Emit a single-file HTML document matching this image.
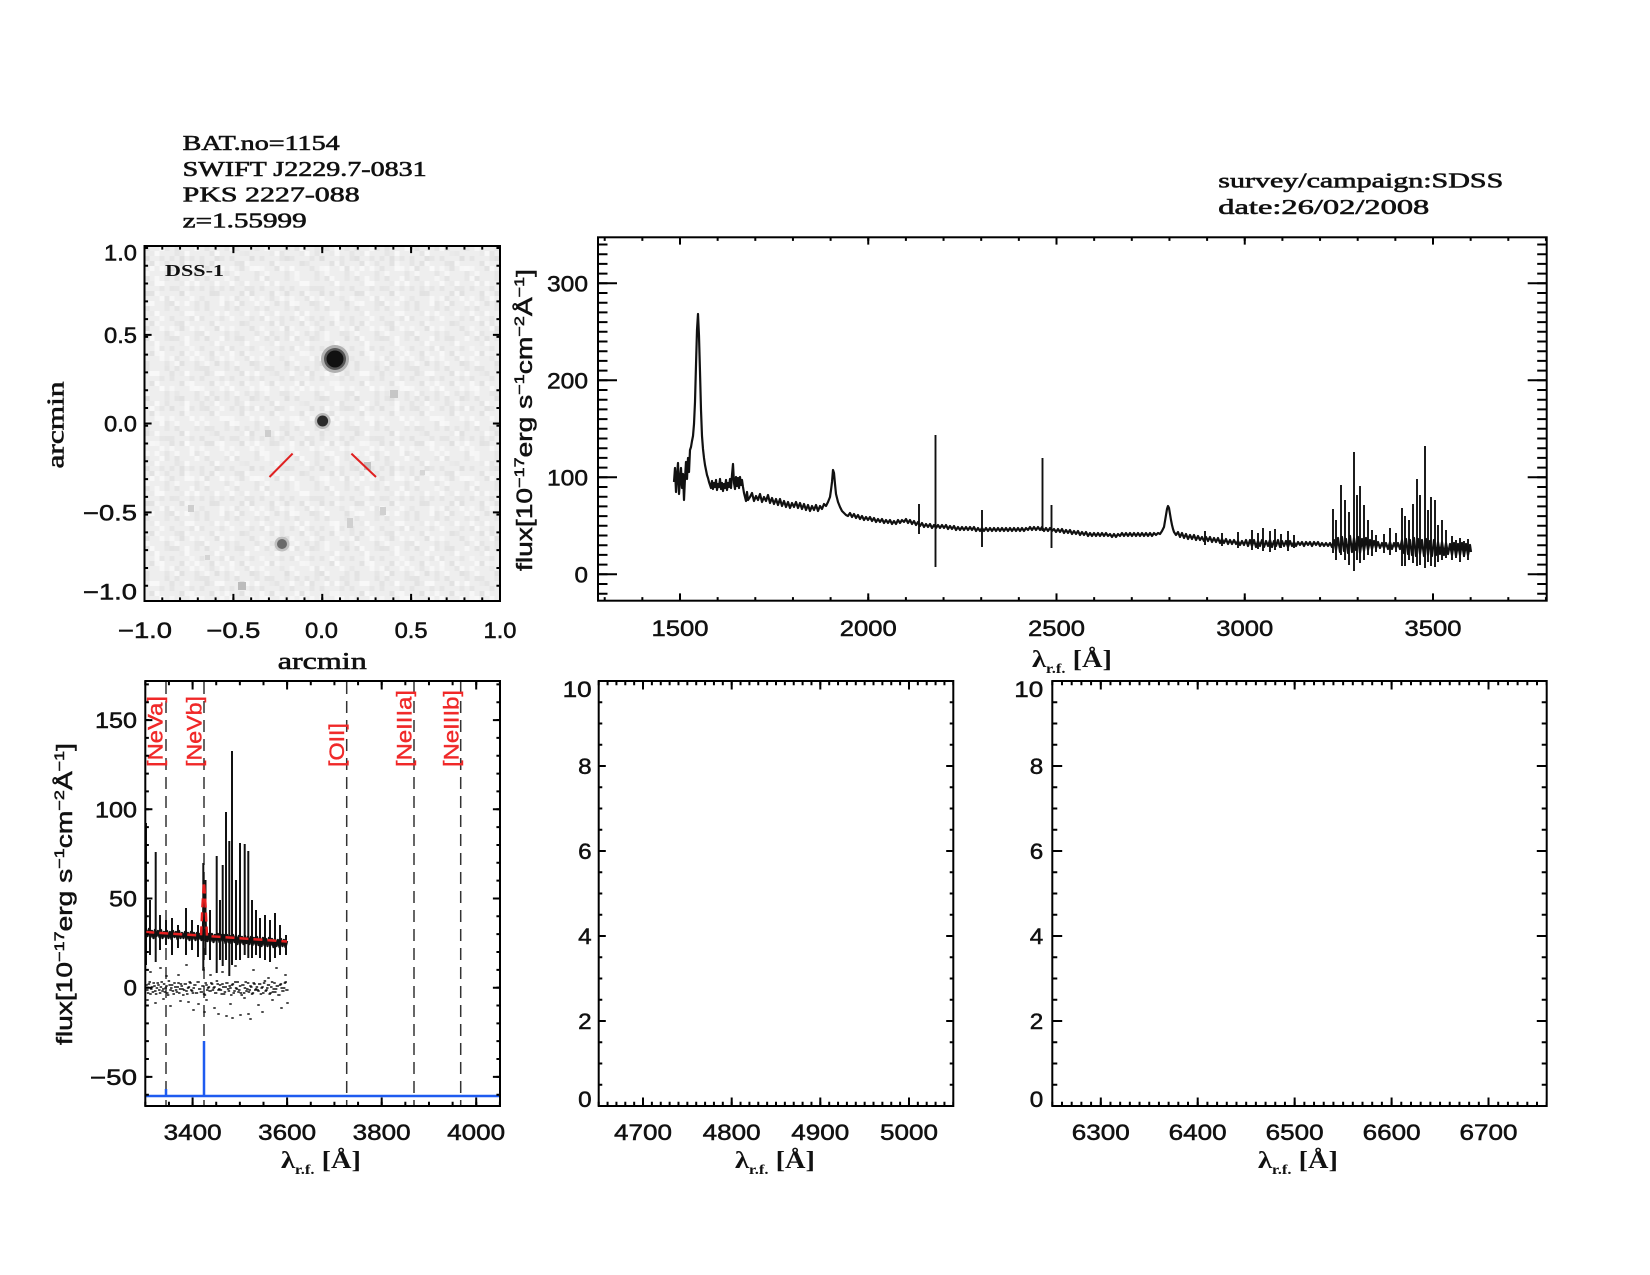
<!DOCTYPE html>
<html><head><meta charset="utf-8"><style>html,body{margin:0;padding:0;background:#fff}svg{display:block}</style></head>
<body>
<svg width="1650" height="1275" viewBox="0 0 1650 1275" xmlns="http://www.w3.org/2000/svg">
<defs>
<pattern id="pA" width="30" height="30" patternUnits="userSpaceOnUse" x="144.5" y="246">
<rect x="0" y="0" width="5" height="5" fill="#e4e4e4"/><rect x="10" y="5" width="5" height="5" fill="#f8f8f8"/><rect x="20" y="0" width="5" height="5" fill="#e7e7e7"/><rect x="5" y="15" width="5" height="5" fill="#e2e2e2"/><rect x="15" y="20" width="5" height="5" fill="#f7f7f7"/><rect x="25" y="10" width="5" height="5" fill="#e5e5e5"/><rect x="0" y="25" width="5" height="5" fill="#f6f6f6"/><rect x="20" y="25" width="5" height="5" fill="#e6e6e6"/><rect x="10" y="15" width="5" height="5" fill="#f5f5f5"/><rect x="5" y="5" width="5" height="5" fill="#eaeaea"/><rect x="15" y="10" width="5" height="5" fill="#e6e6e6"/><rect x="25" y="20" width="5" height="5" fill="#f6f6f6"/>
</pattern>
<pattern id="pB" width="35" height="35" patternUnits="userSpaceOnUse" x="144.5" y="246">
<rect x="0" y="10" width="5" height="5" fill="#dedede"/><rect x="15" y="0" width="5" height="5" fill="#fbfbfb"/><rect x="25" y="20" width="5" height="5" fill="#e0e0e0"/><rect x="10" y="30" width="5" height="5" fill="#f9f9f9"/><rect x="30" y="5" width="5" height="5" fill="#e4e4e4"/><rect x="5" y="20" width="5" height="5" fill="#fbfbfb"/><rect x="20" y="15" width="5" height="5" fill="#e3e3e3"/>
</pattern>
<clipPath id="cImg"><rect x="144.5" y="246" width="355.5" height="355"/></clipPath>
</defs>
<rect width="1650" height="1275" fill="#fff"/>

<!-- header text -->
<g font-family="'Liberation Serif', serif" font-size="21.5" fill="#111" stroke="#111" stroke-width="0.6">
<text x="182.7" y="150" textLength="157" lengthAdjust="spacingAndGlyphs">BAT.no=1154</text>
<text x="182.7" y="175.8" textLength="244" lengthAdjust="spacingAndGlyphs">SWIFT J2229.7-0831</text>
<text x="182.7" y="201.5" textLength="177" lengthAdjust="spacingAndGlyphs">PKS 2227-088</text>
<text x="182.7" y="227.3" textLength="124" lengthAdjust="spacingAndGlyphs">z=1.55999</text>
<text x="1218.3" y="187.7" textLength="285" lengthAdjust="spacingAndGlyphs">survey/campaign:SDSS</text>
<text x="1218.3" y="214" textLength="211" lengthAdjust="spacingAndGlyphs">date:26/02/2008</text>
</g>

<!-- ============ IMAGE PANEL ============ -->
<g clip-path="url(#cImg)">
<rect x="144.5" y="246" width="355.5" height="355" fill="#eeeeee"/>
<rect x="144.5" y="246" width="355.5" height="355" fill="url(#pA)"/>
<rect x="144.5" y="246" width="355.5" height="355" fill="url(#pB)" opacity="0.8"/>
<!-- bright star -->
<circle cx="335" cy="359" r="14" fill="#b0b0b0"/>
<circle cx="335" cy="359" r="11" fill="#555"/>
<circle cx="335" cy="359" r="8.5" fill="#111"/>
<!-- star 2 -->
<circle cx="322.6" cy="421" r="8" fill="#b8b8b8"/>
<circle cx="322.6" cy="421" r="5.5" fill="#2a2a2a"/>
<!-- star 3 -->
<circle cx="282" cy="544" r="7.5" fill="#c0c0c0"/>
<circle cx="282" cy="544" r="5" fill="#6a6a6a"/>
<!-- faint sources -->
<rect x="238" y="582" width="8" height="8" fill="#bcbcbc"/>
<rect x="390" y="390" width="8" height="8" fill="#c6c6c6"/>
<rect x="364" y="462" width="7" height="8" fill="#c4c4c4"/>
<rect x="380" y="507" width="6" height="8" fill="#d0d0d0"/>
<rect x="347" y="518" width="6" height="10" fill="#d0d0d0"/>
<rect x="265" y="430" width="6" height="7" fill="#cdcdcd"/>
<rect x="188" y="505" width="6" height="7" fill="#cecece"/>
<rect x="205" y="555" width="5" height="5" fill="#d4d4d4"/>
<rect x="420" y="470" width="5" height="5" fill="#d6d6d6"/>
<!-- red markers -->
<path d="M269.5,477 L292.6,453.6 M351.4,453.6 L376,477" stroke="#e02020" stroke-width="2" fill="none"/>
</g>
<text x="165" y="276" font-family="'Liberation Serif', serif" font-weight="bold" font-size="17" textLength="59" lengthAdjust="spacingAndGlyphs" fill="#111">DSS-1</text>
<rect x="144.5" y="246" width="355.5" height="355" fill="none" stroke="#000" stroke-width="2"/>
<g stroke="#000" fill="none">
<line x1="143.5" y1="599.2" x2="501" y2="599.2" stroke-width="3.55" stroke-dasharray="2 15.775"/>
<line x1="143.5" y1="247.8" x2="501" y2="247.8" stroke-width="3.55" stroke-dasharray="2 15.775"/>
<line x1="146.3" y1="247" x2="146.3" y2="602" stroke-width="3.55" stroke-dasharray="2 15.775"/>
<line x1="498.2" y1="247" x2="498.2" y2="602" stroke-width="3.55" stroke-dasharray="2 15.775"/>
<path stroke-width="2" d="M233.4,601V593.9 M322.25,601V593.9 M411.1,601V593.9 M233.4,246V253.1 M322.25,246V253.1 M411.1,246V253.1 M144.5,334.9H151.6 M144.5,423.5H151.6 M144.5,512.4H151.6 M500,334.9H492.9 M500,423.5H492.9 M500,512.4H492.9"/>
</g>
<g font-family="'Liberation Sans', sans-serif" font-size="22" fill="#111" stroke="#111" stroke-width="0.5">
<g text-anchor="end">
<text x="137" y="260.7" textLength="33" lengthAdjust="spacingAndGlyphs">1.0</text>
<text x="137" y="342.9" textLength="33" lengthAdjust="spacingAndGlyphs">0.5</text>
<text x="137" y="431.5" textLength="33" lengthAdjust="spacingAndGlyphs">0.0</text>
<text x="137" y="520.4" textLength="54" lengthAdjust="spacingAndGlyphs">−0.5</text>
<text x="137" y="599.5" textLength="54" lengthAdjust="spacingAndGlyphs">−1.0</text>
</g>
<g text-anchor="middle">
<text x="145" y="638" textLength="54" lengthAdjust="spacingAndGlyphs">−1.0</text>
<text x="233.4" y="638" textLength="54" lengthAdjust="spacingAndGlyphs">−0.5</text>
<text x="321.5" y="638" textLength="33" lengthAdjust="spacingAndGlyphs">0.0</text>
<text x="411.1" y="638" textLength="33" lengthAdjust="spacingAndGlyphs">0.5</text>
<text x="500" y="638" textLength="33" lengthAdjust="spacingAndGlyphs">1.0</text>
</g>
</g>
<g font-family="'Liberation Serif', serif" font-size="24" fill="#111" stroke="#111" stroke-width="0.6">
<text x="322.25" y="669" text-anchor="middle" textLength="89" lengthAdjust="spacingAndGlyphs">arcmin</text>
<text transform="translate(63.5,425) rotate(-90)" text-anchor="middle" textLength="87" lengthAdjust="spacingAndGlyphs">arcmin</text>
</g>

<!-- ============ TOP SPECTRUM ============ -->
<polyline fill="none" stroke="#111" stroke-width="2.2" stroke-linejoin="round" points="674,482 675,468 676,492 677,476 678,463 679,494 680,480 681,468 682,488 683,474 684,500 685,478 686,462 687,479 688,458 689,472 690,450 691,447 692,441 693,436 694,424 695,402 696,365 697,330 698,314 699,336 700,372 701,410 702,436 703,449 704,458 705,465 706,470 707,475 708,478 709,482 710,485 711,488 712,481 713,489 714,483 715,487 716,480 717,490 718,484 719,487 720,479 721,489 722,483 723,491 724,484 725,488 726,480 727,490 728,483 729,487 730,479 731,488 732,475 733,464 734,483 735,489 736,477 737,486 738,478 739,488 740,477 741,485 742,480 743,487 744,493 745,497 746,501 747,492 748,500 750,497 752,493 754,501 756,496 758,500 760,494 762,502 764,497 766,501 768,495 770,503 772,498 774,504 776,499 778,505 780,499 782,506 784,501 786,507 788,502 790,508 792,503 794,507 796,502 798,508 800,503 802,509 804,504 806,510 808,505 810,511 812,506 814,510 816,505 818,511 820,506 822,509 824,504 826,506 828,502 830,497 831,490 832,482 833,470 834,473 835,484 836,494 838,502 840,507 842,511 844,513 846,515 848,516 850,513 852,517 854,514 856,518 858,515 860,519 862,516 864,520 866,517 868,520 870,517 872,521 874,518 876,522 878,519 880,522 882,519 884,523 886,520 888,523 890,520 892,524 894,521 896,524 898,520 900,523 902,520 904,522 906,519 908,523 910,520 912,524 914,521 916,525 918,522 920,526 922,523 924,527 926,524 928,527 930,524 932,528 934,525 936,528 938,525 940,528 942,525 944,528 946,525 948,529 950,526 952,529 954,526 956,530 958,527 960,530 962,527 964,530 966,527 968,530 970,527 972,530 974,527 976,531 978,528 980,531 982,528 984,531 986,528 988,531 990,528 992,531 994,528 996,531 998,528 1000,531 1002,528 1004,531 1006,528 1008,531 1010,528 1012,531 1014,528 1016,531 1018,528 1020,531 1022,528 1024,531 1026,528 1028,530 1030,527 1032,530 1034,527 1036,530 1038,527 1040,530 1042,527 1044,531 1046,528 1048,531 1050,528 1052,531 1054,529 1056,532 1058,529 1060,532 1062,529 1064,533 1066,530 1068,533 1070,530 1072,534 1074,531 1076,534 1078,531 1080,535 1082,532 1084,535 1086,532 1088,536 1090,533 1092,536 1094,533 1096,536 1098,533 1100,536 1102,533 1104,536 1106,533 1108,536 1110,534 1112,537 1114,534 1116,537 1118,534 1120,536 1122,533 1124,536 1126,533 1128,536 1130,533 1132,536 1134,533 1136,536 1138,533 1140,536 1142,533 1144,536 1146,533 1148,536 1150,533 1152,536 1154,533 1156,535 1158,533 1160,534 1162,531 1164,527 1165,521 1166,515 1167,509 1168,506 1169,508 1170,514 1171,520 1172,525 1173,529 1174,532 1176,535 1178,532 1180,537 1182,533 1184,538 1186,534 1188,539 1190,535 1192,539 1194,535 1196,540 1198,536 1200,540 1202,537 1204,541 1206,537 1208,541 1210,537 1212,542 1214,538 1216,542 1218,538 1220,543 1222,539 1224,543 1226,539 1228,544 1230,540 1232,544 1234,540 1236,544 1238,541 1240,545 1242,541 1244,545 1246,540 1248,546 1250,540 1252,546 1254,540 1256,547 1258,541 1260,546 1262,540 1264,547 1266,541 1268,546 1270,540 1272,547 1274,541 1276,546 1278,540 1280,547 1282,541 1284,546 1286,541 1288,547 1290,541 1292,546 1294,542 1296,546 1298,542 1300,545 1302,542 1304,546 1306,542 1308,545 1310,542 1312,546 1314,542 1316,545 1318,542 1320,546 1322,543 1324,546 1326,543 1328,546 1330,543 1332,547 1334,540 1336,550 1338,538 1340,552 1342,537 1344,551 1346,539 1348,553 1350,536 1352,552 1354,538 1356,550 1358,537 1360,553 1362,539 1364,551 1366,538 1368,550 1370,540 1372,549 1374,541 1376,548 1378,542 1380,548 1382,543 1384,548 1386,543 1388,549 1390,542 1392,549 1394,543 1396,548 1398,543 1400,549 1402,540 1404,553 1406,539 1408,554 1410,540 1412,555 1414,538 1416,556 1418,539 1420,554 1422,540 1424,556 1426,539 1428,555 1430,541 1432,556 1434,540 1436,555 1438,542 1440,554 1442,542 1444,555 1446,543 1448,554 1450,544 1452,555 1454,543 1456,556 1458,544 1460,555 1462,543 1464,556 1466,544 1468,555 1470,545 1471,552"/>
<path fill="none" stroke="#111" stroke-width="1.9" d="M919,504V534 M935.5,435V567 M982,510V547 M1042.5,458V531 M1051.5,505V548 M1205,531V545 M1222,533V546 M1238,532V548 M1252,530V550 M1258,533V549 M1263,528V551 M1270,531V552 M1275,529V550 M1281,534V548 M1288,531V551 M1294,535V548 M1333,509V553 M1336,520V560 M1341,485V555 M1345,500V560 M1349,512V565 M1354,452V571 M1357,495V560 M1360,486V563 M1364,505V560 M1368,520V555 M1372,530V556 M1376,535V552 M1384,534V553 M1390,528V555 M1396,533V552 M1402,508V566 M1405,516V566 M1409,520V560 M1413,504V563 M1417,479V566 M1420,495V565 M1425,446V568 M1428,510V562 M1431,497V566 M1435,500V567 M1438,525V562 M1442,520V560 M1446,530V558 M1452,536V560 M1456,540V558 M1460,538V562 M1464,541V557 M1468,539V560"/>
<rect x="598" y="237.3" width="948.7" height="363.4" fill="none" stroke="#000" stroke-width="2"/>
<g stroke="#000" fill="none">
<line x1="603.7" y1="598.9" x2="1547" y2="598.9" stroke-width="3.6" stroke-dasharray="2 35.65"/>
<line x1="603.7" y1="239.1" x2="1547" y2="239.1" stroke-width="3.6" stroke-dasharray="2 35.65"/>
<line x1="602.75" y1="594.7" x2="602.75" y2="240" stroke-width="9.5" stroke-dasharray="2 7.7"/>
<line x1="1541.95" y1="594.7" x2="1541.95" y2="240" stroke-width="9.5" stroke-dasharray="2 7.7"/>
<path stroke-width="2" d="M680,600.7V593.4 M868.25,600.7V593.4 M1056.5,600.7V593.4 M1244.75,600.7V593.4 M1433,600.7V593.4 M680,237.3V244.6 M868.25,237.3V244.6 M1056.5,237.3V244.6 M1244.75,237.3V244.6 M1433,237.3V244.6 M598,574.3H617 M598,477.3H617 M598,380.3H617 M598,283.3H617 M1546.7,574.3H1527.7 M1546.7,477.3H1527.7 M1546.7,380.3H1527.7 M1546.7,283.3H1527.7"/>
</g>
<g font-family="'Liberation Sans', sans-serif" font-size="22" fill="#111" stroke="#111" stroke-width="0.5">
<g text-anchor="middle">
<text x="680" y="636" textLength="57" lengthAdjust="spacingAndGlyphs">1500</text>
<text x="868.25" y="636" textLength="57" lengthAdjust="spacingAndGlyphs">2000</text>
<text x="1056.5" y="636" textLength="57" lengthAdjust="spacingAndGlyphs">2500</text>
<text x="1244.75" y="636" textLength="57" lengthAdjust="spacingAndGlyphs">3000</text>
<text x="1433" y="636" textLength="57" lengthAdjust="spacingAndGlyphs">3500</text>
</g>
<g text-anchor="end">
<text x="588" y="582.3" textLength="13.5" lengthAdjust="spacingAndGlyphs">0</text>
<text x="588" y="485.3" textLength="41" lengthAdjust="spacingAndGlyphs">100</text>
<text x="588" y="388.3" textLength="41" lengthAdjust="spacingAndGlyphs">200</text>
<text x="588" y="291.3" textLength="41" lengthAdjust="spacingAndGlyphs">300</text>
</g>
<text transform="translate(532,420) rotate(-90)" text-anchor="middle" textLength="302" lengthAdjust="spacingAndGlyphs">flux[10<tspan font-size="14" dy="-8">−17</tspan><tspan dy="8">erg s</tspan><tspan font-size="14" dy="-8">−1</tspan><tspan dy="8">cm</tspan><tspan font-size="14" dy="-8">−2</tspan><tspan dy="8">Å</tspan><tspan font-size="14" dy="-8">−1</tspan><tspan dy="8">]</tspan></text>
<text transform="translate(72,894) rotate(-90)" text-anchor="middle" textLength="302" lengthAdjust="spacingAndGlyphs">flux[10<tspan font-size="14" dy="-8">−17</tspan><tspan dy="8">erg s</tspan><tspan font-size="14" dy="-8">−1</tspan><tspan dy="8">cm</tspan><tspan font-size="14" dy="-8">−2</tspan><tspan dy="8">Å</tspan><tspan font-size="14" dy="-8">−1</tspan><tspan dy="8">]</tspan></text>
</g>

<!-- lambda labels -->
<g font-family="'Liberation Serif', serif" font-weight="bold" font-size="24" fill="#111" text-anchor="middle">
<text x="1072" y="667" textLength="80" lengthAdjust="spacingAndGlyphs">λ<tspan font-size="14" dy="6">r.f.</tspan><tspan dy="-6"> [Å]</tspan></text>
<text x="321" y="1168" textLength="80" lengthAdjust="spacingAndGlyphs">λ<tspan font-size="14" dy="6">r.f.</tspan><tspan dy="-6"> [Å]</tspan></text>
<text x="775" y="1168" textLength="80" lengthAdjust="spacingAndGlyphs">λ<tspan font-size="14" dy="6">r.f.</tspan><tspan dy="-6"> [Å]</tspan></text>
<text x="1298" y="1168" textLength="80" lengthAdjust="spacingAndGlyphs">λ<tspan font-size="14" dy="6">r.f.</tspan><tspan dy="-6"> [Å]</tspan></text>
</g>

<!-- ============ BOTTOM LEFT ============ -->
<path fill="none" stroke="#333" stroke-width="1.5" stroke-dasharray="12 7" d="M166,682V1105 M204,682V1105 M346.7,682V1105 M414,682V1105 M460.7,682V1105"/>
<g font-family="'Liberation Sans', sans-serif" font-size="21" fill="#f02828" stroke="#f02828" stroke-width="0.4">
<text transform="translate(162.6,767) rotate(-90)" textLength="71" lengthAdjust="spacingAndGlyphs">[NeVa]</text>
<text transform="translate(201.3,767) rotate(-90)" textLength="71" lengthAdjust="spacingAndGlyphs">[NeVb]</text>
<text transform="translate(343.9,767) rotate(-90)" textLength="44" lengthAdjust="spacingAndGlyphs">[OII]</text>
<text transform="translate(411.6,767) rotate(-90)" textLength="77" lengthAdjust="spacingAndGlyphs">[NeIIIa]</text>
<text transform="translate(458.3,767) rotate(-90)" textLength="77" lengthAdjust="spacingAndGlyphs">[NeIIIb]</text>
</g>
<path fill="none" stroke="#111" stroke-width="1.5" stroke-linecap="square" d="M146,985h1 M147.6,993h1 M149.2,982h1 M150.8,989h1 M152.4,992h1 M154,986h1 M155.6,994h1 M157.2,983h1 M158.8,990h1 M160.4,987h1 M162,991h1 M163.6,984h1 M165.2,988h1 M166.8,993h1 M168.4,981h1 M170,990h1 M171.6,985h1 M173.2,994h1 M174.8,987h1 M176.4,992h1 M178,983h1 M179.6,989h1 M181.2,986h1 M182.8,995h1 M184.4,984h1 M186,991h1 M187.6,988h1 M189.2,982h1 M190.8,990h1 M192.4,993h1 M194,985h1 M195.6,993h1 M197.2,982h1 M198.8,989h1 M200.4,992h1 M202,986h1 M203.6,994h1 M205.2,983h1 M206.8,990h1 M208.4,987h1 M210,991h1 M211.6,984h1 M213.2,988h1 M214.8,993h1 M216.4,981h1 M218,990h1 M219.6,985h1 M221.2,994h1 M222.8,987h1 M224.4,992h1 M226,983h1 M227.6,989h1 M229.2,986h1 M230.8,995h1 M232.4,984h1 M234,991h1 M235.6,988h1 M237.2,982h1 M238.8,990h1 M240.4,993h1 M242,985h1 M243.6,993h1 M245.2,982h1 M246.8,989h1 M248.4,992h1 M250,986h1 M251.6,994h1 M253.2,983h1 M254.8,990h1 M256.4,987h1 M258,991h1 M259.6,984h1 M261.2,988h1 M262.8,993h1 M264.4,981h1 M266,990h1 M267.6,985h1 M269.2,994h1 M270.8,987h1 M272.4,992h1 M274,983h1 M275.6,989h1 M277.2,986h1 M278.8,995h1 M280.4,984h1 M282,991h1 M283.6,988h1 M285.2,982h1 M286.8,990h1 M146.8,990h1 M148.4,984h1 M150,994h1 M151.6,987h1 M153.2,983h1 M154.8,991h1 M156.4,988h1 M158,985h1 M159.6,993h1 M161.2,982h1 M162.8,989h1 M164.4,992h1 M166,986h1 M167.6,995h1 M169.2,985h1 M170.8,988h1 M172.4,991h1 M174,983h1 M175.6,990h1 M177.2,987h1 M178.8,993h1 M180.4,984h1 M182,989h1 M183.6,990h1 M185.2,984h1 M186.8,994h1 M188.4,987h1 M190,983h1 M191.6,991h1 M193.2,988h1 M194.8,985h1 M196.4,993h1 M198,982h1 M199.6,989h1 M201.2,992h1 M202.8,986h1 M204.4,995h1 M206,985h1 M207.6,988h1 M209.2,991h1 M210.8,983h1 M212.4,990h1 M214,987h1 M215.6,993h1 M217.2,984h1 M218.8,989h1 M220.4,990h1 M222,984h1 M223.6,994h1 M225.2,987h1 M226.8,983h1 M228.4,991h1 M230,988h1 M231.6,985h1 M233.2,993h1 M234.8,982h1 M236.4,989h1 M238,992h1 M239.6,986h1 M241.2,995h1 M242.8,985h1 M244.4,988h1 M246,991h1 M247.6,983h1 M249.2,990h1 M250.8,987h1 M252.4,993h1 M254,984h1 M255.6,989h1 M257.2,990h1 M258.8,984h1 M260.4,994h1 M262,987h1 M263.6,983h1 M265.2,991h1 M266.8,988h1 M268.4,985h1 M270,993h1 M271.6,982h1 M273.2,989h1 M274.8,992h1 M276.4,986h1 M278,995h1 M279.6,985h1 M281.2,988h1 M282.8,991h1 M284.4,983h1 M286,990h1 M147,1000h1 M150,972h1 M155,1003h1 M160,968h1 M163,999h1 M170,1006h1 M178,975h1 M186,965h1 M188,1002h1 M193,1010h1 M198,1004h1 M203,970h1 M204,1012h1 M206,1000h1 M210,975h1 M214,1008h1 M218,1014h1 M222,972h1 M226,1016h1 M230,1004h1 M235,966h1 M240,1015h1 M244,998h1 M248,1014h1 M253,970h1 M258,1005h1 M262,1012h1 M268,978h1 M272,1000h1 M276,968h1 M281,1008h1 M285,975h1 M287,1003h1 M180,1001h1 M166,976h1 M232,1018h1 M250,1019h1"/>
<polyline fill="none" stroke="#111" stroke-width="2.4" stroke-linejoin="round" points="146,930 147.5,936 149,929 150.5,937 152,931 153.5,938 155,930 156.5,936 158,931 159.5,937 161,930 162.5,938 164,932 165.5,937 167,931 168.5,938 170,932 171.5,939 173,931 174.5,937 176,932 177.5,939 179,931 180.5,938 182,933 183.5,938 185,932 186.5,939 188,933 189.5,940 191,932 192.5,939 194,933 195.5,940 197,933 198.5,939 200,934 201.5,940 203,930 204,890 205,905 206,935 207.5,941 209,934 210.5,941 212,934 213.5,942 215,935 216.5,941 218,934 219.5,942 221,935 222.5,941 224,935 225.5,943 227,935 228.5,942 230,936 231.5,943 233,935 234.5,942 236,936 237.5,944 239,936 240.5,943 242,937 243.5,944 245,936 246.5,943 248,937 249.5,944 251,937 252.5,945 254,938 255.5,944 257,937 258.5,945 260,938 261.5,946 263,938 264.5,945 266,939 267.5,946 269,938 270.5,945 272,939 273.5,947 275,939 276.5,946 278,940 279.5,947 281,939 282.5,946 284,940 285.5,947 287,941"/>
<path fill="none" stroke="#111" stroke-width="2" d="M146,823V965 M150,900V955 M155.7,852V962 M160,915V950 M166,920V945 M172,918V955 M178,925V948 M186,908V955 M192,920V950 M198,925V957 M203.3,863V970 M205.5,880V955 M210,910V960 M216.7,856V973 M220,900V960 M222.7,865V966 M226,812V960 M229.3,841V976 M232,751V965 M236,880V960 M240,843V960 M244.7,844V955 M248.3,851V958 M252,900V958 M256,910V955 M260,918V958 M265,915V960 M270,920V962 M275,913V958 M280,925V955 M286,935V955"/>
<path fill="none" stroke="#e82020" stroke-width="2.5" stroke-dasharray="9 5" d="M145.3,932 L201,935.5 L202.5,905 L204,882 L205.5,905 L207,936 L287,941.5"/>
<path fill="none" stroke="#1e5bf0" stroke-width="2.5" d="M145.3,1096 H500 M166,1096 V1089 M204,1096 V1041"/>
<rect x="145.3" y="681" width="354.7" height="425" fill="none" stroke="#000" stroke-width="2"/>
<g stroke="#000" fill="none">
<line x1="144.3" y1="1103.9" x2="501" y2="1103.9" stroke-width="4.25" stroke-dasharray="2 21.64"/>
<line x1="144.3" y1="683.1" x2="501" y2="683.1" stroke-width="4.25" stroke-dasharray="2 21.64"/>
<line x1="147.1" y1="1095.7" x2="147.1" y2="682" stroke-width="3.55" stroke-dasharray="2 15.84"/>
<line x1="498.2" y1="1095.7" x2="498.2" y2="682" stroke-width="3.55" stroke-dasharray="2 15.84"/>
<path stroke-width="2" d="M192.6,1106V1097.5 M287.1,1106V1097.5 M381.7,1106V1097.5 M476.2,1106V1097.5 M192.6,681V689.5 M287.1,681V689.5 M381.7,681V689.5 M476.2,681V689.5 M145.3,1076.9H152.4 M145.3,987.7H152.4 M145.3,898.5H152.4 M145.3,809.3H152.4 M145.3,720.1H152.4 M500,1076.9H492.9 M500,987.7H492.9 M500,898.5H492.9 M500,809.3H492.9 M500,720.1H492.9"/>
</g>
<g font-family="'Liberation Sans', sans-serif" font-size="22" fill="#111" stroke="#111" stroke-width="0.5">
<g text-anchor="end">
<text x="137" y="728.1" textLength="42" lengthAdjust="spacingAndGlyphs">150</text>
<text x="137" y="817.3" textLength="42" lengthAdjust="spacingAndGlyphs">100</text>
<text x="137" y="906.5" textLength="28" lengthAdjust="spacingAndGlyphs">50</text>
<text x="137" y="995.7" textLength="13.5" lengthAdjust="spacingAndGlyphs">0</text>
<text x="137" y="1084.9" textLength="47" lengthAdjust="spacingAndGlyphs">−50</text>
</g>
<g text-anchor="middle">
<text x="192.6" y="1140" textLength="58" lengthAdjust="spacingAndGlyphs">3400</text>
<text x="287.1" y="1140" textLength="58" lengthAdjust="spacingAndGlyphs">3600</text>
<text x="381.7" y="1140" textLength="58" lengthAdjust="spacingAndGlyphs">3800</text>
<text x="476.2" y="1140" textLength="58" lengthAdjust="spacingAndGlyphs">4000</text>
</g>
</g>

<!-- ============ BOTTOM MIDDLE ============ -->
<rect x="598.7" y="681" width="354.6" height="425" fill="none" stroke="#000" stroke-width="2"/>
<g stroke="#000" fill="none">
<line x1="597.7" y1="1103.9" x2="954" y2="1103.9" stroke-width="4.25" stroke-dasharray="2 6.865"/>
<line x1="597.7" y1="683.1" x2="954" y2="683.1" stroke-width="4.25" stroke-dasharray="2 6.865"/>
<line x1="600.5" y1="1107" x2="600.5" y2="681" stroke-width="3.55" stroke-dasharray="2 19.25"/>
<line x1="951.5" y1="1107" x2="951.5" y2="681" stroke-width="3.55" stroke-dasharray="2 19.25"/>
<path stroke-width="2" d="M643,1106V1097.5 M731.7,1106V1097.5 M820.3,1106V1097.5 M909,1106V1097.5 M643,681V689.5 M731.7,681V689.5 M820.3,681V689.5 M909,681V689.5 M598.7,1021H605.8 M598.7,936H605.8 M598.7,851H605.8 M598.7,766H605.8 M953.3,1021H946.2 M953.3,936H946.2 M953.3,851H946.2 M953.3,766H946.2"/>
</g>
<g font-family="'Liberation Sans', sans-serif" font-size="22" fill="#111" stroke="#111" stroke-width="0.5">
<g text-anchor="end">
<text x="591.7" y="1107" textLength="13.5" lengthAdjust="spacingAndGlyphs">0</text>
<text x="591.7" y="1029" textLength="13.5" lengthAdjust="spacingAndGlyphs">2</text>
<text x="591.7" y="944" textLength="13.5" lengthAdjust="spacingAndGlyphs">4</text>
<text x="591.7" y="859" textLength="13.5" lengthAdjust="spacingAndGlyphs">6</text>
<text x="591.7" y="774" textLength="13.5" lengthAdjust="spacingAndGlyphs">8</text>
<text x="591.7" y="697" textLength="29" lengthAdjust="spacingAndGlyphs">10</text>
</g>
<g text-anchor="middle">
<text x="643" y="1140" textLength="58" lengthAdjust="spacingAndGlyphs">4700</text>
<text x="731.7" y="1140" textLength="58" lengthAdjust="spacingAndGlyphs">4800</text>
<text x="820.3" y="1140" textLength="58" lengthAdjust="spacingAndGlyphs">4900</text>
<text x="909" y="1140" textLength="58" lengthAdjust="spacingAndGlyphs">5000</text>
</g>
</g>

<!-- ============ BOTTOM RIGHT ============ -->
<rect x="1052.3" y="681" width="494.4" height="425" fill="none" stroke="#000" stroke-width="2"/>
<g stroke="#000" fill="none">
<line x1="1051.3" y1="1103.9" x2="1547.5" y2="1103.9" stroke-width="4.25" stroke-dasharray="2 7.694"/>
<line x1="1051.3" y1="683.1" x2="1547.5" y2="683.1" stroke-width="4.25" stroke-dasharray="2 7.694"/>
<line x1="1054.8" y1="1107" x2="1054.8" y2="681" stroke-width="4.95" stroke-dasharray="2 19.25"/>
<line x1="1544.2" y1="1107" x2="1544.2" y2="681" stroke-width="4.95" stroke-dasharray="2 19.25"/>
<path stroke-width="2" d="M1100.8,1106V1097.5 M1197.7,1106V1097.5 M1294.65,1106V1097.5 M1391.6,1106V1097.5 M1488.5,1106V1097.5 M1100.8,681V689.5 M1197.7,681V689.5 M1294.65,681V689.5 M1391.6,681V689.5 M1488.5,681V689.5 M1052.3,1021H1062.2 M1052.3,936H1062.2 M1052.3,851H1062.2 M1052.3,766H1062.2 M1546.7,1021H1536.8 M1546.7,936H1536.8 M1546.7,851H1536.8 M1546.7,766H1536.8"/>
</g>
<g font-family="'Liberation Sans', sans-serif" font-size="22" fill="#111" stroke="#111" stroke-width="0.5">
<g text-anchor="end">
<text x="1043.3" y="1107" textLength="13.5" lengthAdjust="spacingAndGlyphs">0</text>
<text x="1043.3" y="1029" textLength="13.5" lengthAdjust="spacingAndGlyphs">2</text>
<text x="1043.3" y="944" textLength="13.5" lengthAdjust="spacingAndGlyphs">4</text>
<text x="1043.3" y="859" textLength="13.5" lengthAdjust="spacingAndGlyphs">6</text>
<text x="1043.3" y="774" textLength="13.5" lengthAdjust="spacingAndGlyphs">8</text>
<text x="1043.3" y="697" textLength="29" lengthAdjust="spacingAndGlyphs">10</text>
</g>
<g text-anchor="middle">
<text x="1100.8" y="1140" textLength="58" lengthAdjust="spacingAndGlyphs">6300</text>
<text x="1197.7" y="1140" textLength="58" lengthAdjust="spacingAndGlyphs">6400</text>
<text x="1294.65" y="1140" textLength="58" lengthAdjust="spacingAndGlyphs">6500</text>
<text x="1391.6" y="1140" textLength="58" lengthAdjust="spacingAndGlyphs">6600</text>
<text x="1488.5" y="1140" textLength="58" lengthAdjust="spacingAndGlyphs">6700</text>
</g>
</g>
</svg>
</body></html>
